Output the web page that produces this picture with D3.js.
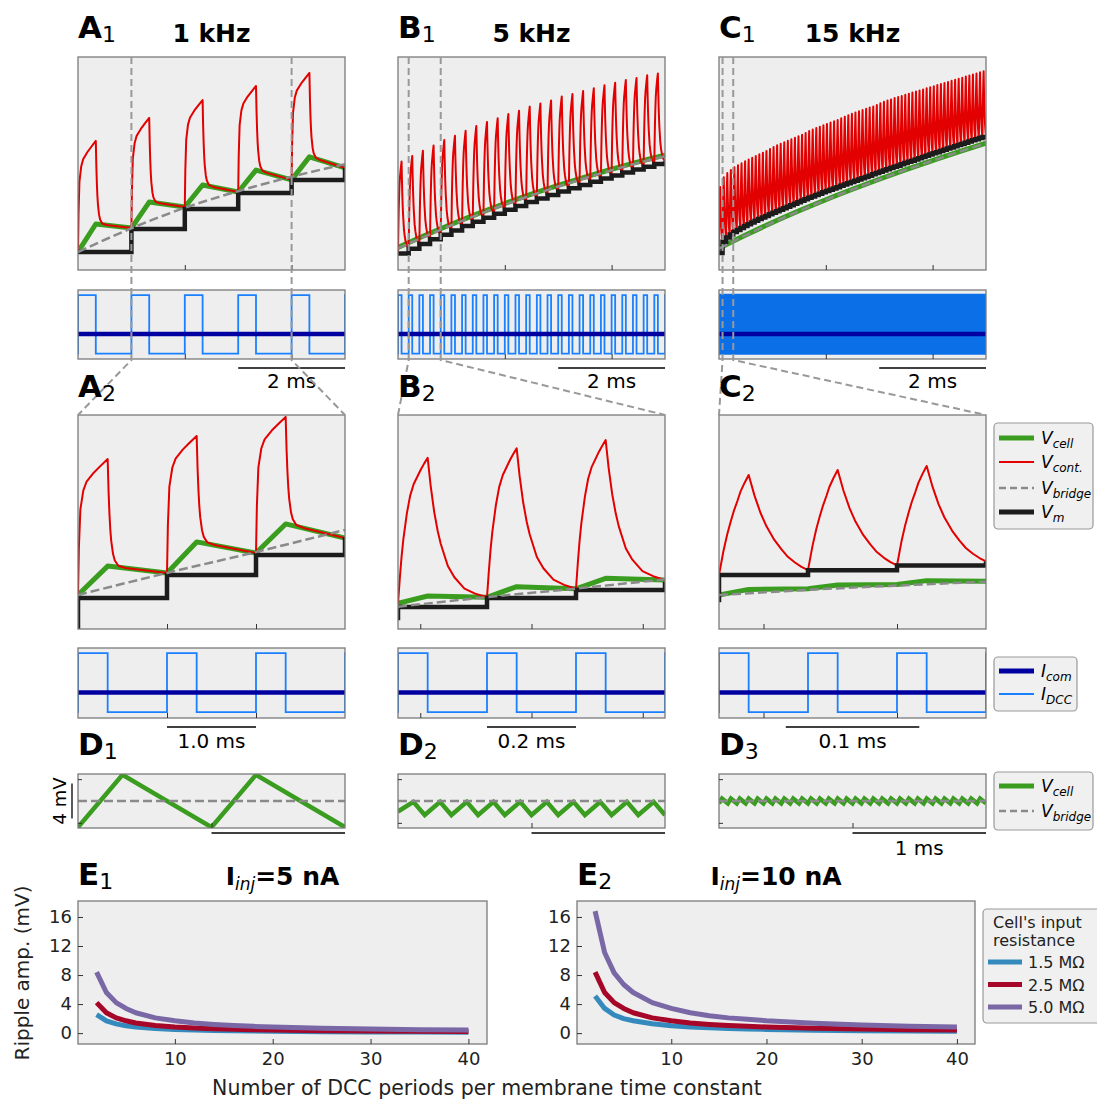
<!DOCTYPE html>
<html>
<head>
<meta charset="utf-8">
<script src="https://cdn.jsdelivr.net/npm/d3@7"></script>
<style>
  body { margin: 0; background: #fff; }
  svg { font-family: "DejaVu Sans", sans-serif; }
</style>
</head>
<body>
<script>
// ---------------- data (voltages in arbitrary units, 0 = panel bottom, 100 = panel top) ----------------
const duty = 1 / 3
const iCom = 5
const iDccLevels = [15, 0]          // on, off (nA)

// shape of the electrode voltage
const riseA = { u: [0, 0.03, 0.08, 0.18, 0.29, 0.53, 0.76, 1], f: [0, 0.35, 0.63, 0.77, 0.835, 0.9, 0.95, 1] }
const decayA = { u: [0, 0.015, 0.03, 0.045, 0.06, 0.09, 0.12, 0.18, 0.3, 1], g: [1, 0.7, 0.49, 0.34, 0.24, 0.12, 0.06, 0.014, 0.002, 0] }
const riseB = { u: [0, 0.06, 0.12, 0.18, 0.3, 0.41, 0.53, 0.65, 0.77, 0.88, 1], f: [0, 0.17, 0.32, 0.44, 0.62, 0.74, 0.82, 0.87, 0.92, 0.96, 1] }
const decayB = { u: [0, 0.05, 0.11, 0.17, 0.22, 0.34, 0.45, 0.62, 0.8, 1], g: [1, 0.8, 0.61, 0.47, 0.38, 0.22, 0.14, 0.06, 0.025, 0] }
const riseC = { u: [0, 0.15, 0.28, 0.4, 0.5, 0.62, 0.72, 0.86, 1], f: [0, 0.24, 0.41, 0.54, 0.64, 0.74, 0.83, 0.92, 1] }
const decayC = { u: [0, 0.1, 0.2, 0.3, 0.43, 0.55, 0.66, 0.78, 0.89, 1], g: [1, 0.78, 0.6, 0.46, 0.32, 0.22, 0.14, 0.08, 0.035, 0] }

const smoothT = [0, 0.5, 1, 1.5, 2, 2.5, 3, 3.5, 4, 4.5, 5]

// A1: 1 kHz
const a1Vm = [8.45, 19.2, 28.6, 36.2, 42.3, 47.9]
const a1RedPeak = [60.6, 71.4, 79.8, 86.4, 92.5]
const a1GreenEdge = [8.5, 19.7, 29.6, 36.6, 42.3, 47.9]
const a1GreenPeak = [21.6, 31.9, 39.9, 46.9, 53.1]
const a1Bridge = [8.45, 19.6, 29.2, 37.0, 43.8, 49.7]

// B1: 5 kHz
const b1Vm = [7.8, 10.0, 12.2, 14.4, 16.5, 18.6, 20.6, 22.6, 24.5, 26.4, 28.3, 30.1, 31.9,
  33.6, 35.2, 36.8, 38.4, 39.9, 41.4, 42.9, 44.4, 45.8, 47.2, 48.5, 49.8, 51.0]
const b1RedPeak = [50.9, 53.5, 56.0, 58.5, 61.0, 63.0, 65.4, 67.6, 69.5, 71.2, 73.2, 74.8, 76.7,
  78.2, 79.6, 81.4, 82.6, 84.0, 85.3, 86.7, 87.9, 89.2, 90.1, 91.4, 92.3]
const b1Green = [10.6, 16.2, 21.5, 26.5, 31.2, 35.6, 39.7, 43.6, 47.3, 50.8, 53.9]
const b1Bridge = [10.2, 15.7, 21.0, 26.0, 30.7, 35.1, 39.2, 43.1, 46.8, 50.3, 53.4]

// C1: 15 kHz
const c1Vm = [8.0, 13.3, 15.3, 16.7, 17.8, 18.8, 19.7, 20.6, 21.5, 22.3, 23.1, 23.9, 24.7, 25.4, 26.2,
  26.9, 27.6, 28.3, 29.0, 29.7, 30.4, 31.1, 31.8, 32.5, 33.2, 33.9, 34.5, 35.2, 35.8, 36.5,
  37.1, 37.7, 38.3, 38.9, 39.5, 40.1, 40.7, 41.3, 41.9, 42.5, 43.1, 43.7, 44.3, 44.9, 45.5,
  46.1, 46.7, 47.3, 47.9, 48.5, 49.0, 49.6, 50.2, 50.8, 51.3, 51.9, 52.5, 53.0, 53.6, 54.2,
  54.8, 55.3, 55.9, 56.4, 57.0, 57.5, 58.1, 58.7, 59.2, 59.8, 60.3, 60.9, 61.4, 62.0, 62.5, 63.1]
const c1RedPeak = [39.0, 43.5, 45.5, 47.0, 48.2, 49.2, 50.1, 51.0, 51.9, 52.7, 53.5, 54.3, 55.1, 55.9, 56.8,
  57.7, 58.6, 59.3, 60.0, 60.7, 61.4, 62.1, 62.8, 63.5, 64.3, 65.2, 66.0, 66.7, 67.3, 68.0,
  68.6, 69.2, 69.8, 70.4, 71.2, 72.0, 72.7, 73.3, 73.9, 74.5, 75.1, 75.7, 76.3, 76.8, 77.5,
  78.3, 79.0, 79.6, 80.1, 80.7, 81.2, 81.7, 82.3, 82.8, 83.3, 83.8, 84.3, 84.8, 85.3, 85.8,
  86.3, 86.8, 87.3, 87.8, 88.3, 88.8, 89.3, 89.8, 90.3, 90.8, 91.3, 91.8, 92.3, 92.8, 93.3]
const c1Green = [10.2, 16.4, 22.3, 27.8, 33.0, 37.9, 42.6, 47.1, 51.4, 55.6, 59.6]
const c1Bridge = [10.0, 16.3, 22.2, 27.7, 32.9, 37.8, 42.5, 47.0, 51.3, 55.5, 59.5]

// A2 / B2 / C2: three cycles, zoomed
const a2Vm = [14.5, 25.2, 34.6, 43.0]
const a2RedPeak = [79.4, 90.2, 99.1]
const a2GreenEdge = [15.9, 26.2, 35.5, 42.5]
const a2GreenPeak = [29.4, 40.7, 49.1]
const a2Bridge = [15.9, 26.2, 36.0, 46.3]

const b2Vm = [10.3, 14.5, 18.2, 22.0]
const b2RedPeak = [80.0, 84.4, 88.3]
const b2GreenEdge = [12.0, 14.8, 18.8, 22.9]
const b2GreenPeak = [15.4, 19.8, 23.7]
const b2Bridge = [10.4, 14.9, 18.9, 23.2]

const c2Vm = [25.2, 27.5, 29.7, 31.6]
const c2RedPeak = [72.0, 74.3, 76.2]
const c2GreenEdge = [15.9, 18.8, 20.8, 22.3]
const c2GreenPeak = [18.5, 20.6, 22.6]
const c2Bridge = [15.9, 18.3, 20.3, 22.1]

// D: ripple of Vcell around Vbridge (mV)
const d1Peaks = [3.0, 3.0]
const d1Troughs = [-3.0, -3.0]
const d2Peaks = [-0.1, -0.1, -0.1, -0.1, -0.1, -0.1, -0.1, -0.1, -0.1, -0.1]
const d2Troughs = [-1.6, -1.6, -1.6, -1.6, -1.6, -1.6, -1.6, -1.6, -1.6, -1.6]
const d3Peaks = [0.27, 0.27, 0.27, 0.27, 0.27, 0.27, 0.27, 0.27, 0.27, 0.27, 0.27, 0.27, 0.27, 0.27, 0.27,
  0.27, 0.27, 0.27, 0.27, 0.27, 0.27, 0.27, 0.27, 0.27, 0.27, 0.27, 0.27, 0.27, 0.27, 0.27]
const d3Troughs = [-0.27, -0.27, -0.27, -0.27, -0.27, -0.27, -0.27, -0.27, -0.27, -0.27, -0.27, -0.27, -0.27, -0.27, -0.27,
  -0.27, -0.27, -0.27, -0.27, -0.27, -0.27, -0.27, -0.27, -0.27, -0.27, -0.27, -0.27, -0.27, -0.27, -0.27]

// E: ripple amplitude vs number of DCC periods per tau
const eN = [2, 3, 4, 5, 6, 8, 10, 12, 14, 16, 18, 20, 25, 30, 35, 40]
const e1R15 = [2.55, 1.7, 1.27, 1.0, 0.85, 0.64, 0.51, 0.42, 0.36, 0.32, 0.28, 0.25, 0.2, 0.17, 0.15, 0.13]
const e1R25 = [4.2, 2.8, 2.1, 1.7, 1.4, 1.05, 0.84, 0.7, 0.6, 0.52, 0.47, 0.42, 0.34, 0.28, 0.24, 0.21]
const e1R50 = [8.4, 5.6, 4.2, 3.4, 2.8, 2.1, 1.7, 1.4, 1.2, 1.05, 0.93, 0.84, 0.67, 0.56, 0.48, 0.42]
const e2R15 = [5.1, 3.4, 2.5, 2.0, 1.7, 1.3, 1.0, 0.85, 0.73, 0.64, 0.57, 0.51, 0.41, 0.34, 0.29, 0.25]
const e2R25 = [8.4, 5.6, 4.2, 3.4, 2.8, 2.1, 1.7, 1.4, 1.2, 1.05, 0.93, 0.84, 0.67, 0.56, 0.48, 0.42]
const e2R50 = [16.8, 11.1, 8.3, 6.7, 5.6, 4.2, 3.4, 2.8, 2.4, 2.1, 1.9, 1.7, 1.35, 1.12, 0.96, 0.84]
const resLabels = ['1.5 MΩ', '2.5 MΩ', '5.0 MΩ']

// ---------------- drawing ----------------
const cGreen = '#3a9d1f', cRed = '#e30000', cGray = '#8a8a8a', cBlack = '#1c1c1c'
const cDcc = '#1a80ff', cCom = '#0000a0', cFrame = '#7a7a7a'
const eColors = ['#348ABD', '#A60628', '#7A68A6']

const svg = d3.select('body').append('svg').attr('width', 1097).attr('height', 1100)

let clipN = 0
function panel(left, top, w, h, xd, yd) {
  const x = d3.scaleLinear().domain(xd).range([left, left + w])
  const y = d3.scaleLinear().domain(yd).range([top + h, top])
  const id = 'clip' + (clipN++)
  svg.append('clipPath').attr('id', id).append('rect')
    .attr('x', left).attr('y', top).attr('width', w).attr('height', h)
  svg.append('rect').attr('x', left).attr('y', top).attr('width', w).attr('height', h).attr('fill', '#eeeeee')
  const g = svg.append('g').attr('clip-path', `url(#${id})`)
  return { x, y, g, left, top, w, h }
}
function frame(p) {
  svg.append('rect').attr('x', p.left).attr('y', p.top).attr('width', p.w).attr('height', p.h)
    .attr('fill', 'none').attr('stroke', cFrame).attr('stroke-width', 1.3)
}

function draw(p, pts, color, width, opts = {}) {
  const line = d3.line().x(d => p.x(d[0])).y(d => p.y(d[1]))
  if (opts.curve) line.curve(opts.curve)
  p.g.append('path').datum(pts).attr('d', line)
    .attr('fill', 'none').attr('stroke', color).attr('stroke-width', width)
    .attr('stroke-dasharray', opts.dash || null)
    .attr('stroke-linejoin', opts.join || 'round')
}

function xTicks(p, vals) {
  svg.append('g').attr('transform', `translate(0,${p.top + p.h})`)
    .call(d3.axisBottom(p.x).tickValues(vals).tickSize(-5).tickFormat(''))
    .call(g => g.select('.domain').remove())
    .selectAll('line').attr('stroke', '#333')
}
function yTicks(p, vals) {
  svg.append('g').attr('transform', `translate(${p.left},0)`)
    .call(d3.axisLeft(p.y).tickValues(vals).tickSize(-4).tickFormat(''))
    .call(g => g.select('.domain').remove())
    .selectAll('line').attr('stroke', '#333')
}

function vmPts(c) {
  const pts = []
  if (c.vmBefore != null) pts.push([c.t0 - c.T, c.vmBefore], [c.t0, c.vmBefore])
  for (let k = 0; k < c.n; k++) pts.push([c.t0 + k * c.T, c.vm[k]], [c.t0 + (k + 1) * c.T, c.vm[k]])
  pts.push([c.t0 + c.n * c.T, c.vm[c.n]])
  return pts
}
function redPts(c) {
  const S = c.redBase === 'green' ? c.greenEdge : c.vm
  const on = c.T * duty, off = c.T - on
  const pts = []
  for (let k = 0; k < c.n; k++) {
    const ts = c.t0 + k * c.T, pk = c.redPeak[k]
    c.rise.u.forEach((u, i) => pts.push([ts + u * on, S[k] + (pk - S[k]) * c.rise.f[i]]))
    const b0 = c.redBase === 'green' ? c.greenPeak[k] : S[k + 1]
    c.decay.u.forEach((u, i) => {
      if (!i) return
      const L = b0 + (S[k + 1] - b0) * u
      pts.push([ts + on + u * off, L + (pk - b0) * c.decay.g[i]])
    })
  }
  return pts
}
function greenPts(c) {
  const pts = []
  for (let k = 0; k < c.n; k++) pts.push([c.t0 + k * c.T, c.greenEdge[k]], [c.t0 + (k + duty) * c.T, c.greenPeak[k]])
  pts.push([c.t0 + c.n * c.T, c.greenEdge[c.n]])
  return pts
}
function dccPts(p, c) {
  const [hi, lo] = iDccLevels
  const xd = p.x.domain()
  const k0 = Math.floor((xd[0] - c.t0) / c.T) - 1, k1 = Math.ceil((xd[1] - c.t0) / c.T)
  const pts = []
  for (let k = k0; k <= k1; k++) {
    const ts = c.t0 + k * c.T
    pts.push([ts, lo], [ts, hi], [ts + duty * c.T, hi], [ts + duty * c.T, lo])
  }
  return pts
}

const cols = [78, 398, 719], colW = 267
const row1 = [
  { t0: 0, T: 1, n: 5, vm: a1Vm, redPeak: a1RedPeak, greenEdge: a1GreenEdge, greenPeak: a1GreenPeak, bridge: a1Bridge, rise: riseA, decay: decayA, redBase: 'green', iw: 1.8 },
  { t0: 0, T: 0.2, n: 25, vm: b1Vm, redPeak: b1RedPeak, green: b1Green, bridgeS: b1Bridge, rise: riseB, decay: decayB, redBase: 'vm', iw: 1.8 },
  { t0: 0, T: 1 / 15, n: 75, vm: c1Vm, redPeak: c1RedPeak, green: c1Green, bridgeS: c1Bridge, rise: riseC, decay: decayC, redBase: 'vm', iw: 2.6, ic: '#0b6fe8' }
]
const row2 = [
  { t0: 1, T: 1, n: 3, vm: a2Vm, vmBefore: -10, redPeak: a2RedPeak, greenEdge: a2GreenEdge, greenPeak: a2GreenPeak, bridge: a2Bridge, rise: riseA, decay: decayA, redBase: 'green', xd: [1, 4], ticks: [2, 3], iw: 1.8 },
  { t0: 0.2, T: 0.2, n: 3, vm: b2Vm, vmBefore: 5.1, redPeak: b2RedPeak, greenEdge: b2GreenEdge, greenPeak: b2GreenPeak, bridge: b2Bridge, rise: riseB, decay: decayB, redBase: 'green', xd: [0.2, 0.8], ticks: [0.25, 0.5, 0.75], iw: 1.8 },
  { t0: 1 / 15, T: 1 / 15, n: 3, vm: c2Vm, vmBefore: 13.6, redPeak: c2RedPeak, greenEdge: c2GreenEdge, greenPeak: c2GreenPeak, bridge: c2Bridge, rise: riseC, decay: decayC, redBase: 'vm', xd: [1 / 15, 4 / 15], ticks: [0.1, 0.2], iw: 1.8 }
]

function traces(p, c) {
  if (c.greenEdge) draw(p, greenPts(c), cGreen, 5)
  else draw(p, smoothT.map((t, i) => [t, c.green[i]]), cGreen, 5, { curve: d3.curveMonotoneX })
  draw(p, redPts(c), cRed, 2)
  draw(p, vmPts(c), cBlack, 4.5, { join: 'miter' })
  const br = c.bridge ? c.bridge.map((v, k) => [c.t0 + k * c.T, v]) : smoothT.map((t, i) => [t, c.bridgeS[i]])
  draw(p, br, cGray, 2.5, { dash: '9,4', curve: d3.curveMonotoneX })
}
function currents(p, c) {
  draw(p, dccPts(p, c), c.ic || cDcc, c.iw, { join: 'miter' })
  draw(p, p.x.domain().map(t => [t, iCom]), cCom, 4.5)
}

const topP = [], zoomT = [[1, 4], [0.2, 0.8], [1 / 15, 4 / 15]]
row1.forEach((c, i) => {
  const p = panel(cols[i], 57, colW, 213, [0, 5], [0, 100])
  traces(p, c); frame(p); xTicks(p, [2, 4]); topP.push(p)
  const q = panel(cols[i], 290, colW, 69, [0, 5], [-1.4, 16.3])
  currents(q, c); frame(q); xTicks(q, [2, 4])
  // scale bar 2 ms
  svg.append('line').attr('x1', q.x(3)).attr('x2', q.x(5)).attr('y1', 368).attr('y2', 368).attr('stroke', '#000').attr('stroke-width', 1.3)
  svg.append('text').attr('x', q.x(4)).attr('y', 388).attr('text-anchor', 'middle').attr('font-size', 20).text('2 ms')
})

const scaleBars2 = [[2, 3, '1.0 ms'], [0.4, 0.6, '0.2 ms'], [0.1167, 0.2167, '0.1 ms']]
row2.forEach((c, i) => {
  const p = panel(cols[i], 415, colW, 214, c.xd, [0, 100])
  traces(p, c); frame(p); xTicks(p, c.ticks)
  const q = panel(cols[i], 648, colW, 70, c.xd, [-1.5, 16.3])
  currents(q, c); frame(q); xTicks(q, c.ticks)
  const [a, b, s] = scaleBars2[i]
  svg.append('line').attr('x1', q.x(a)).attr('x2', q.x(b)).attr('y1', 727).attr('y2', 727).attr('stroke', '#000').attr('stroke-width', 1.3)
  svg.append('text').attr('x', (q.x(a) + q.x(b)) / 2).attr('y', 748).attr('text-anchor', 'middle').attr('font-size', 20).text(s)
})

// D panels
const dCfg = [
  { first: -3.0, T: 1, peakOff: 1 / 3, peaks: d1Peaks, troughs: d1Troughs },
  { first: -1.2, T: 0.2, peakOff: 0.115, peaks: d2Peaks, troughs: d2Troughs },
  { first: -0.27, T: 1 / 15, peakOff: 1 / 45, peaks: d3Peaks, troughs: d3Troughs }
]
const dP = []
dCfg.forEach((c, i) => {
  const p = panel(cols[i], 774, colW, 54, [0, 2], [-3.09, 3.09])
  const pts = [[0, c.first]]
  c.peaks.forEach((v, k) => { pts.push([k * c.T + c.peakOff, v], [(k + 1) * c.T, c.troughs[k]]) })
  draw(p, pts, cGreen, 4.5, { join: 'miter' })
  draw(p, [[0, 0], [2, 0]], cGray, 2.5, { dash: '9,4' })
  frame(p); xTicks(p, [1]); yTicks(p, [-2.5, 2.5])
  svg.append('line').attr('x1', p.x(1)).attr('x2', p.x(2)).attr('y1', 833).attr('y2', 833).attr('stroke', '#000').attr('stroke-width', 1.3)
  dP.push(p)
})
svg.append('text').attr('x', dP[2].x(1.5)).attr('y', 855).attr('text-anchor', 'middle').attr('font-size', 20).text('1 ms')
svg.append('line').attr('x1', 72).attr('x2', 72).attr('y1', dP[0].y(-2)).attr('y2', dP[0].y(2)).attr('stroke', '#000').attr('stroke-width', 1.3)
svg.append('text').attr('transform', `translate(66,${dP[0].y(0)}) rotate(-90)`).attr('text-anchor', 'middle').attr('font-size', 18).text('4 mV')

// zoom connectors
topP.forEach((p, i) => {
  zoomT[i].forEach((t, j) => {
    const xs = p.x(t), xc = j ? cols[i] + colW : cols[i]
    svg.append('path').attr('d', d3.line()([[xs, 57], [xs, 360], [xc, 415]]))
      .attr('fill', 'none').attr('stroke', '#999').attr('stroke-width', 2).attr('stroke-dasharray', '7,4')
  })
})

// panel labels and titles
function label(x, y, big, sub) {
  const t = svg.append('text').attr('x', x).attr('y', y).attr('font-size', 31).attr('font-weight', 'bold').text(big)
  t.append('tspan').attr('dy', 4).attr('font-size', 22).attr('font-weight', 'normal').text(sub)
}
const letters = ['A', 'B', 'C']
letters.forEach((L, i) => { label(cols[i], 38, L, '1'); label(cols[i], 397, L, '2'); label(cols[i], 755, 'D', String(i + 1)) })
const titles = ['1 kHz', '5 kHz', '15 kHz']
titles.forEach((s, i) => svg.append('text').attr('x', cols[i] + colW / 2).attr('y', 42).attr('text-anchor', 'middle')
  .attr('font-size', 25).attr('font-weight', 'bold').text(s))

// legends
function legendBox(x, y, w, h) {
  svg.append('rect').attr('x', x).attr('y', y).attr('width', w).attr('height', h).attr('rx', 4)
    .attr('fill', '#f0f0f0').attr('stroke', '#999').attr('stroke-width', 1.2)
}
function legendItem(y, color, width, dash, main, sub) {
  svg.append('line').attr('x1', 999).attr('x2', 1034).attr('y1', y).attr('y2', y)
    .attr('stroke', color).attr('stroke-width', width).attr('stroke-dasharray', dash || null)
  const t = svg.append('text').attr('x', 1041).attr('y', y + 6).attr('font-size', 17).attr('font-style', 'italic').text(main)
  t.append('tspan').attr('dy', 4).attr('font-size', 12).text(sub)
}
legendBox(994, 423, 99, 106)
legendItem(438, cGreen, 5, null, 'V', 'cell')
legendItem(462, cRed, 2, null, 'V', 'cont.')
legendItem(488, cGray, 2.5, '7,4', 'V', 'bridge')
legendItem(512, cBlack, 5, null, 'V', 'm')
legendBox(994, 657, 83, 54)
legendItem(671, cCom, 5, null, 'I', 'com')
legendItem(694, cDcc, 2, null, 'I', 'DCC')
legendBox(994, 772, 99, 58)
legendItem(786, cGreen, 5, null, 'V', 'cell')
legendItem(811, cGray, 2.5, '7,4', 'V', 'bridge')

// E panels
const eCfg = [
  { left: 78, w: 409, series: [e1R15, e1R25, e1R50], title: '=5 nA', label: '1' },
  { left: 577, w: 398, series: [e2R15, e2R25, e2R50], title: '=10 nA', label: '2' }
]
eCfg.forEach(c => {
  const p = panel(c.left, 901, c.w, 143, [0.1, 41.9], [-1.5, 18.2])
  c.series.forEach((s, j) => draw(p, eN.map((n, k) => [n, s[k]]), eColors[j], 5))
  frame(p)
  svg.append('g').attr('transform', `translate(0,${p.top + p.h})`)
    .call(d3.axisBottom(p.x).tickValues([10, 20, 30, 40]).tickSizeInner(-5).tickSizeOuter(0).tickPadding(8))
    .call(g => g.select('.domain').remove())
    .attr('font-size', 18).attr('font-family', 'DejaVu Sans')
    .call(g => g.selectAll('line').attr('stroke', '#333'))
    .call(g => g.selectAll('text').attr('fill', '#222'))
  svg.append('g').attr('transform', `translate(${p.left},0)`)
    .call(d3.axisLeft(p.y).tickValues([0, 4, 8, 12, 16]).tickSizeInner(-5).tickSizeOuter(0).tickPadding(6))
    .call(g => g.select('.domain').remove())
    .attr('font-size', 18).attr('font-family', 'DejaVu Sans')
    .call(g => g.selectAll('line').attr('stroke', '#333'))
    .call(g => g.selectAll('text').attr('fill', '#222'))
  label(c.left, 885, 'E', c.label)
  const t = svg.append('text').attr('x', c.left + c.w / 2).attr('y', 885).attr('text-anchor', 'middle')
    .attr('font-size', 25).attr('font-weight', 'bold').text('I')
  t.append('tspan').attr('dy', 5).attr('font-size', 17).attr('font-style', 'italic').attr('font-weight', 'normal').text('inj')
  t.append('tspan').attr('dy', -5).text(c.title)
})
svg.append('text').attr('transform', 'translate(29,973) rotate(-90)').attr('text-anchor', 'middle')
  .attr('font-size', 20).attr('fill', '#222').text('Ripple amp. (mV)')
svg.append('text').attr('x', 487).attr('y', 1095).attr('text-anchor', 'middle')
  .attr('font-size', 20.5).attr('fill', '#222').text('Number of DCC periods per membrane time constant')

// E legend
legendBox(983, 909, 125, 114)
svg.append('text').attr('x', 993).attr('y', 928).attr('font-size', 16).attr('fill', '#222').text("Cell's input")
svg.append('text').attr('x', 993).attr('y', 946).attr('font-size', 16).attr('fill', '#222').text('resistance')
resLabels.forEach((s, j) => {
  const y = 962 + j * 22.5
  svg.append('line').attr('x1', 988).attr('x2', 1022).attr('y1', y).attr('y2', y).attr('stroke', eColors[j]).attr('stroke-width', 5)
  svg.append('text').attr('x', 1028).attr('y', y + 6).attr('font-size', 16).attr('fill', '#222').text(s)
})
</script>
</body>
</html>
